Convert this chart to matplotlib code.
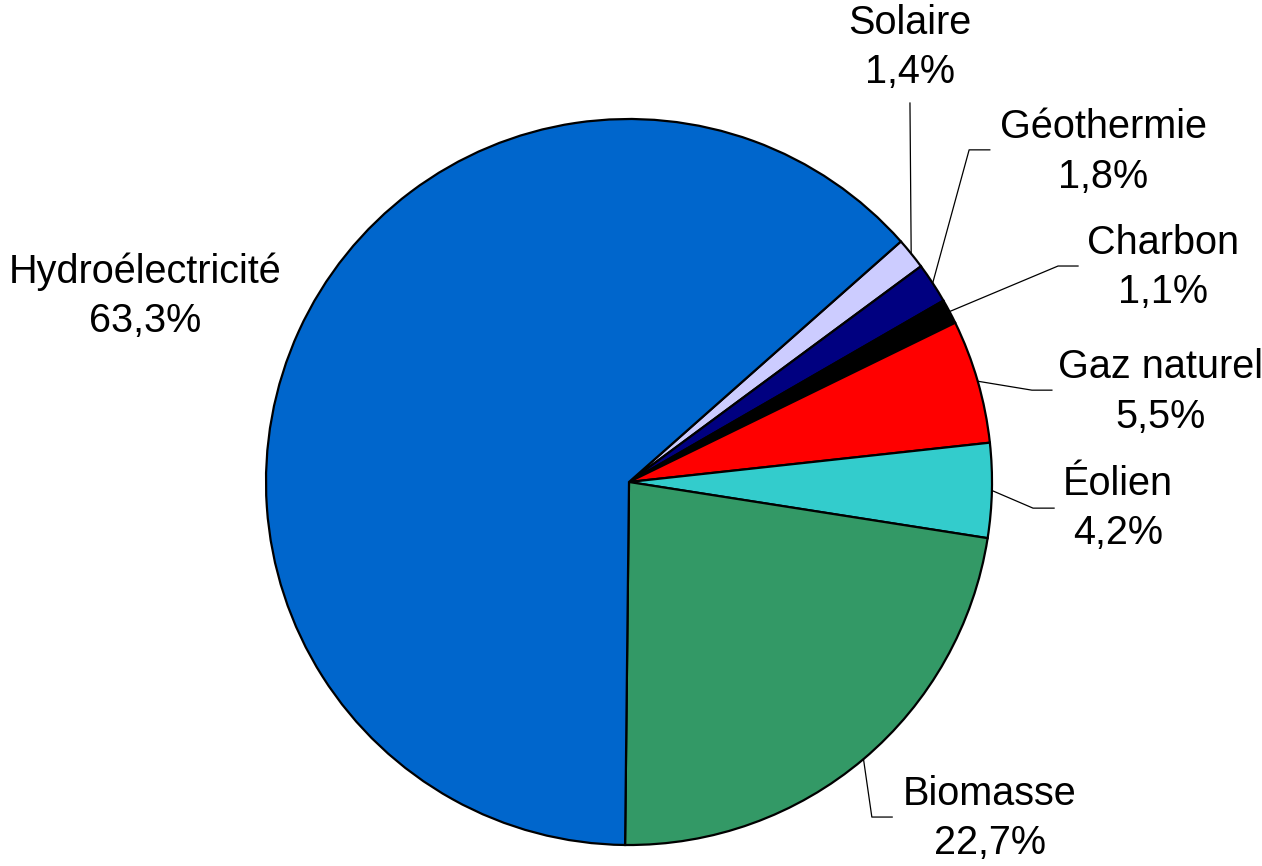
import matplotlib
matplotlib.use("Agg")
import matplotlib.pyplot as plt
import numpy as np

plt.rcParams['font.family'] = ['Liberation Sans', 'DejaVu Sans']

labels = ["Solaire", "Géothermie", "Charbon", "Gaz naturel", "Éolien", "Biomasse", "Hydroélectricité"]
values = [1.4, 1.8, 1.1, 5.5, 4.2, 22.7, 63.3]
value_text = ["1,4%", "1,8%", "1,1%", "5,5%", "4,2%", "22,7%", "63,3%"]
colors = ["#CCCCFF", "#000080", "#000000", "#FF0000", "#33CCCC", "#339966", "#0066CC"]

# layout (data units, pie radius = 1)
text_pos = [(0.774, 1.196), (1.306, 0.909), (1.471, 0.592), (1.463, 0.248),
            (1.347, -0.074), (0.994, -0.926), (-1.333, 0.512)]
elbow = [(0.774, 1.044), (0.937, 0.915), (1.182, 0.595), (1.110, 0.253),
         (1.113, -0.072), (0.669, -0.923), None]
elbow_end = [(0.774, 1.044), (0.994, 0.915), (1.237, 0.595), (1.165, 0.253),
             (1.171, -0.072), (0.725, -0.923), None]

W, H, DPI = 12.62, 8.66, 100
fig = plt.figure(figsize=(W, H), dpi=DPI)
ax = fig.add_axes([0, 0, 1, 1])
cx, cy, r = 629, 482, 363

wedges, _ = ax.pie(values, colors=colors, startangle=41.5, counterclock=False,
                   radius=1, center=(0, 0),
                   wedgeprops=dict(edgecolor='black', linewidth=1.6))
ax.set_xlim((0 - cx) / r, (1262 - cx) / r)
ax.set_ylim((cy - 866) / r, cy / r)
ax.set_aspect('equal')
ax.axis('off')

for w, lab, vt, tp, el, ee in zip(wedges, labels, value_text, text_pos, elbow, elbow_end):
    if el is not None:
        mid = np.deg2rad((w.theta1 + w.theta2) / 2)
        sx, sy = np.cos(mid), np.sin(mid)
        ax.plot([sx, el[0], ee[0]], [sy, el[1], ee[1]], color='black', lw=0.9)
    ax.text(tp[0], tp[1], lab + "\n" + vt, ha='center', va='center',
            fontsize=28.5, linespacing=1.37)

fig.savefig("out.png", dpi=DPI)
